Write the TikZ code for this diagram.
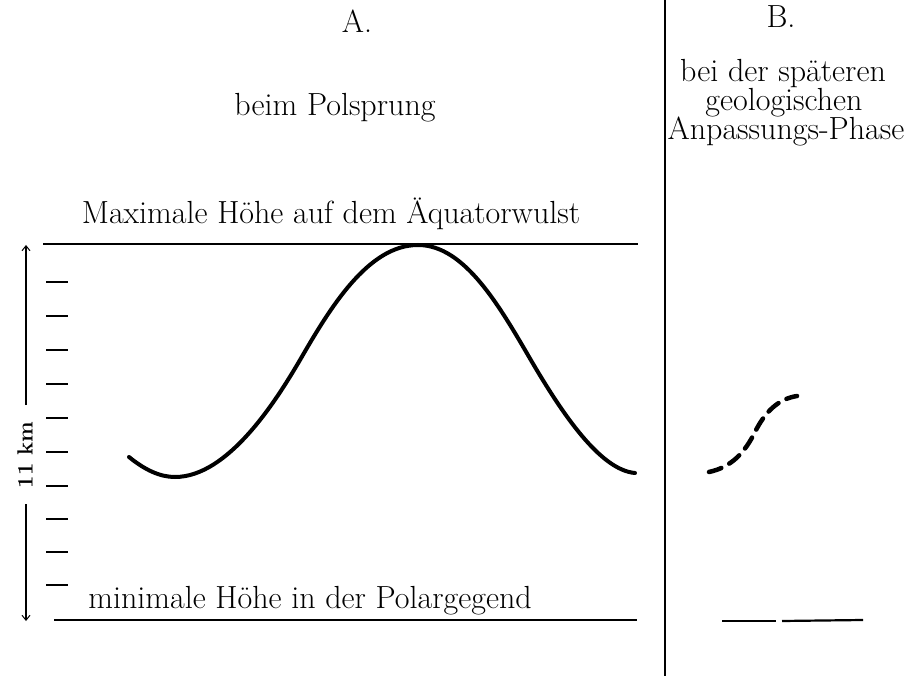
\documentclass[tikz,border=0pt]{standalone}
\usetikzlibrary{arrows.meta}
\begin{document}
\begin{tikzpicture}[x=1pt,y=-1pt,
  lbl/.style={inner sep=0pt,anchor=base,font=\fontsize{32}{36}\selectfont},
  rule/.style={line width=2.2pt},
  tick/.style={line width=2.6pt},
  curveA/.style={line width=4pt,line cap=round},
  curveB/.style={line width=4.5pt,dash pattern=on 13pt off 9pt,line cap=round},
  axis/.style={line width=2pt}]
\useasboundingbox (0,0) rectangle (905,676);
% headings
\node[lbl] (A) at (357,33) {A.};
\node[lbl] (B) at (781,28) {B.};
\node[lbl] (pol) at (335,116) {beim Polsprung};
\node[lbl] (b1) at (783,82) {bei der späteren};
\node[lbl] (b2) at (784,111) {geologischen};
\node[lbl] (b3) at (786,140) {Anpassungs-Phase};
\node[lbl] (max) at (331,224) {Maximale Höhe auf dem Äquatorwulst};
\node[lbl] (min) at (310,608) {minimale Höhe in der Polargegend};
% divider
\coordinate (dtop) at (665,0);
\coordinate (dbot) at (665,676);
\draw[line width=2.6pt] (dtop) -- (dbot);
% horizontal reference lines
\coordinate (tl) at (43,244);
\coordinate (tr) at (638,244);
\coordinate (bl) at (54,620);
\coordinate (br) at (637,620);
\draw[rule] (tl) -- (tr);
\draw[rule] (bl) -- (br);
\coordinate (b4l) at (722,621);
\coordinate (b4m) at (776,621);
\coordinate (b4n) at (782,621);
\coordinate (b4r) at (863,620);
\draw[rule] (b4l) -- (b4m);
\draw[rule] (b4n) -- (b4r);
% axis
\node[inner sep=0pt,rotate=90,font=\fontsize{22}{26}\selectfont\bfseries] (km) at (25,455) {11 km};
\coordinate (axtop) at (26,245);
\coordinate (axbot) at (26,621);
\coordinate (axm1) at (26,405);
\coordinate (axm2) at (26,504);
\draw[axis,-{Straight Barb[length=5pt,width=8pt,line width=1pt]}] (axm1) -- (axtop);
\draw[axis,-{Straight Barb[length=5pt,width=8pt,line width=1pt]}] (axm2) -- (axbot);
\foreach \y in {282,316,350,384,418,452,486,519,552,585}
  \draw[tick] (46,\y) -- (68,\y);
% curve A
\coordinate (a0) at (129,457);
\coordinate (a1) at (175,477);
\coordinate (a2) at (300,360);
\coordinate (a3) at (418,245);
\coordinate (a4) at (532,362);
\coordinate (a5) at (635,473);
\draw[curveA] (a0) .. controls (145,470) and (160,477) .. (a1)
  .. controls (228,477) and (276,401) .. (a2)
  .. controls (330,308) and (368,245) .. (a3)
  .. controls (465,245) and (500,307) .. (a4)
  .. controls (562,413) and (600,470) .. (a5);
% curve B
\coordinate (c0) at (709,472);
\coordinate (c1) at (755,432);
\coordinate (c2) at (797,396);
\draw[curveB] (c0) .. controls (732,467) and (745,452) .. (c1)
  .. controls (765,412) and (778,399) .. (c2);
\end{tikzpicture}
\end{document}
